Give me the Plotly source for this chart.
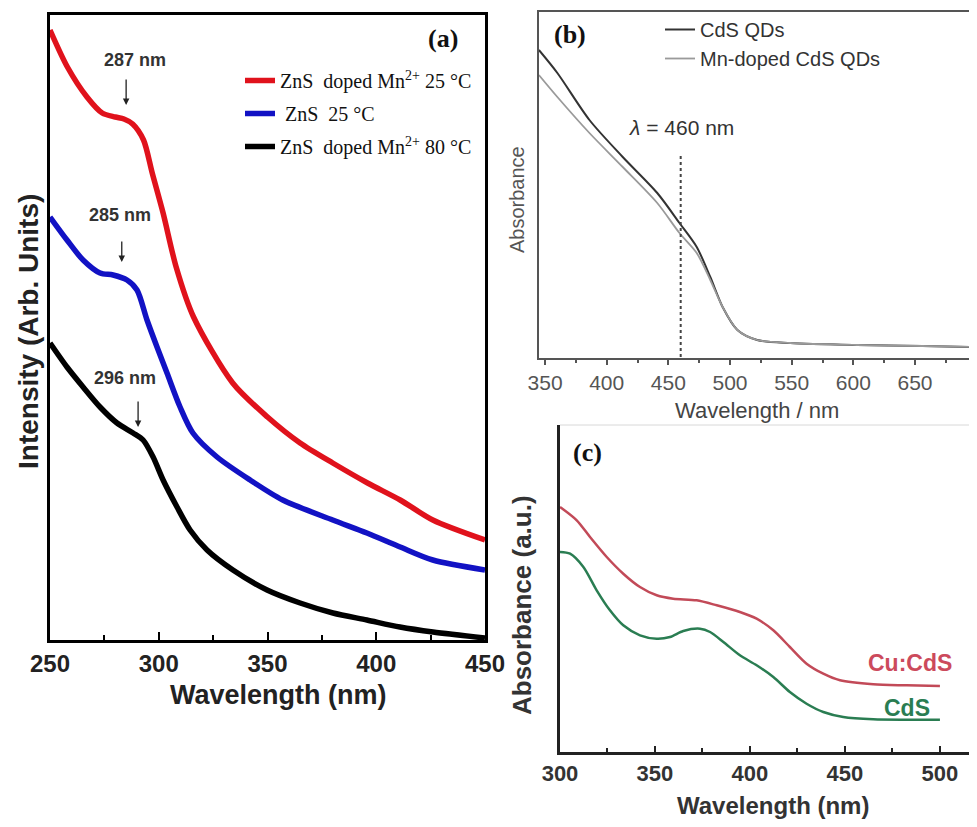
import plotly.graph_objects as go

# ---------------- Panel (a) data ----------------
a_red_x = [250, 258, 267, 274, 280, 284, 288, 293, 297, 302, 308, 316, 334, 350, 365, 380, 396, 411, 426, 450]
a_red_y = [610, 573, 543, 527, 523, 521, 516, 500, 467, 427, 373, 323, 257, 223, 197, 177, 157, 140, 120, 100]
a_blue_x = [250, 257.8, 265.2, 273, 279, 285.4, 290, 294.6, 299.2, 303.8, 309.8, 315.7, 326.8, 342, 357, 380, 395.7, 411, 426, 450]
a_blue_y = [423, 400, 380, 367, 365, 360, 350, 320, 293, 267, 233, 207, 183, 160, 140, 120, 107, 93, 80, 70]
a_black_x = [250, 257.8, 265.2, 273, 280.8, 288.2, 292.8, 297.4, 302, 308.4, 314.4, 322.2, 334.1, 349.8, 365, 380.1, 395.7, 410.9, 426.1, 450]
a_black_y = [297, 273, 253, 233, 217, 207, 200, 183, 160, 133, 110, 90, 70, 50, 37, 27, 20, 13, 8, 2]
a_names = ["ZnS  doped Mn<sup>2+</sup> 25 °C", " ZnS  25 °C", "ZnS  doped Mn<sup>2+</sup> 80 °C"]
a_peak_labels = ["287 nm", "285 nm", "296 nm"]
a_peak_x = [285, 283, 290.5]
a_peak_head_y = [535, 378, 213]
a_peak_tail_y = [562, 400, 240]
a_label_x = [289, 282.2, 284.5]
a_label_y = [580, 425, 262]

# ---------------- Panel (b) data ----------------
b_x = [345, 360, 386, 413, 441, 459, 473, 484, 494, 506, 522, 549, 603, 656, 698]
b_cds_y = [309, 286, 239, 202, 166, 136, 112, 82, 52, 29, 19, 16, 14, 13, 12]
b_mn_y = [284, 262, 226, 192, 156, 126, 106, 79, 52, 29, 19, 16, 14, 13, 12]
b_names = ["CdS QDs", "Mn-doped CdS QDs"]
b_lambda = 460
b_lambda_y = [2, 204]

# ---------------- Panel (c) data ----------------
c_cu_x = [300, 308.8, 315.8, 324.6, 333.3, 342.1, 350.9, 359.6, 371.9, 382.5, 394.7, 403.5, 412.3, 421, 429.8, 438.6, 447.4, 464.9, 482.5, 500]
c_cu_y = [245, 231.7, 215, 195, 178.3, 165, 156.7, 153.3, 151.7, 146.7, 140, 133.3, 121.7, 105, 88.3, 78.3, 71.7, 67.7, 66.7, 66]
c_cds_x = [300, 305.3, 312.3, 319.3, 326.3, 333.3, 342.1, 350.9, 357.9, 364.9, 373.7, 379, 386, 394.7, 403.5, 412.3, 421, 429.8, 438.6, 449.1, 464.9, 482.5, 500]
c_cds_y = [200, 198.3, 185, 161.7, 141.7, 126.7, 116.7, 113.3, 115, 121, 123.3, 120, 110, 96.7, 86.7, 75, 60, 48.3, 40, 35, 32.7, 32.3, 32.3]

# page body has an 8px margin; size the figure so the page fits the window exactly
OFF = 8
FW, FH = 977 - 2 * OFF, 827 - 2 * OFF
def px(v):
    return min(1.0, max(0.0, (v - OFF) / FW))
def py(v):
    return min(1.0, max(0.0, 1 - (v - OFF) / FH))

SANS = "Liberation Sans, Arial, sans-serif"
SERIF = "Liberation Serif, Times New Roman, serif"

fig = go.Figure()

# Panel a traces
for xs, ys, col, nm in [(a_red_x, a_red_y, "#e0121c", a_names[0]),
                        (a_blue_x, a_blue_y, "#1212c4", a_names[1]),
                        (a_black_x, a_black_y, "#000000", a_names[2])]:
    fig.add_trace(go.Scatter(x=xs, y=ys, mode="lines", name=nm,
                             line=dict(color=col, width=5.5, shape="spline", smoothing=0.8),
                             xaxis="x", yaxis="y", legend="legend", legendgroup=nm))

# Panel b traces
fig.add_trace(go.Scatter(x=b_x, y=b_cds_y, mode="lines", name=b_names[0],
                         line=dict(color="#333333", width=2, shape="spline", smoothing=0.8),
                         xaxis="x2", yaxis="y2", legend="legend2"))
fig.add_trace(go.Scatter(x=b_x, y=b_mn_y, mode="lines", name=b_names[1],
                         line=dict(color="#9a9a9a", width=1.8, shape="spline", smoothing=0.8),
                         xaxis="x2", yaxis="y2", legend="legend2"))
fig.add_trace(go.Scatter(x=[b_lambda, b_lambda], y=b_lambda_y, mode="lines", showlegend=False,
                         line=dict(color="#444444", width=2, dash="dot"),
                         xaxis="x2", yaxis="y2"))

# Panel c traces
fig.add_trace(go.Scatter(x=c_cu_x, y=c_cu_y, mode="lines", name="Cu:CdS", showlegend=False,
                         line=dict(color="#c24a58", width=2.5, shape="spline", smoothing=0.8),
                         xaxis="x3", yaxis="y3"))
fig.add_trace(go.Scatter(x=c_cds_x, y=c_cds_y, mode="lines", name="CdS", showlegend=False,
                         line=dict(color="#2a7d52", width=2.5, shape="spline", smoothing=0.8),
                         xaxis="x3", yaxis="y3"))

C = dict(xanchor="center", yanchor="middle", showarrow=False)
annotations = []
# Panel a labels and arrows
for lab, xa, hy, ty, lx, ly in zip(a_peak_labels, a_peak_x, a_peak_head_y, a_peak_tail_y, a_label_x, a_label_y):
    annotations.append(dict(x=xa, y=hy, ax=xa, ay=ty, xref="x", yref="y", axref="x", ayref="y",
                            text="", showarrow=True, arrowhead=2, arrowsize=1, arrowwidth=1.3,
                            arrowcolor="#222222"))
    annotations.append(dict(x=lx, y=ly, xref="x", yref="y", text="<b>%s</b>" % lab,
                            font=dict(family=SANS, size=18, color="#333333"), **C))

annotations += [
    dict(x=px(443), y=py(38), xref="paper", yref="paper", text="<b>(a)</b>",
         font=dict(family=SERIF, size=26, color="#111111"), **C),
    dict(x=px(570), y=py(35), xref="paper", yref="paper", text="<b>(b)</b>",
         font=dict(family=SERIF, size=26, color="#111111"), **C),
    dict(x=px(587), y=py(452), xref="paper", yref="paper", text="<b>(c)</b>",
         font=dict(family=SERIF, size=26, color="#111111"), **C),
    dict(x=px(278), y=py(695), xref="paper", yref="paper", text="<b>Wavelength (nm)</b>",
         font=dict(family=SANS, size=27, color="#222222"), **C),
    dict(x=px(28), y=py(332), xref="paper", yref="paper", text="<b>Intensity (Arb. Units)</b>",
         textangle=-90, font=dict(family=SANS, size=28, color="#222222"), **C),
    dict(x=px(757), y=py(410), xref="paper", yref="paper", text="Wavelength / nm",
         font=dict(family=SANS, size=22, color="#444444"), **C),
    dict(x=px(517), y=py(200), xref="paper", yref="paper", text="Absorbance",
         textangle=-90, font=dict(family=SANS, size=20, color="#555555"), **C),
    dict(x=461, y=231, xref="x2", yref="y2", text="<i>λ</i> = 460 nm",
         font=dict(family=SANS, size=21, color="#333333"), **C),
    dict(x=px(773), y=py(805), xref="paper", yref="paper", text="<b>Wavelength (nm)</b>",
         font=dict(family=SANS, size=24, color="#333333"), **C),
    dict(x=px(522), y=py(605), xref="paper", yref="paper", text="<b>Absorbance (a.u.)</b>",
         textangle=-90, font=dict(family=SANS, size=26, color="#333333"), **C),
    dict(x=484.2, y=89, xref="x3", yref="y3", text="<b>Cu:CdS</b>",
         font=dict(family=SANS, size=23, color="#cc4a5c"), **C),
    dict(x=482.6, y=44, xref="x3", yref="y3", text="<b>CdS</b>",
         font=dict(family=SANS, size=23, color="#2a7d52"), **C),
]

shapes = [
    dict(type="line", xref="x3 domain", yref="y3 domain", x0=0, x1=1, y0=1, y1=1,
         line=dict(color="#d8d8d8", width=1)),
]

fig.update_layout(
    width=FW, height=FH,
    margin=dict(l=0, r=0, t=0, b=0, autoexpand=False),
    paper_bgcolor="white", plot_bgcolor="white",
    annotations=annotations, shapes=shapes,
    xaxis=dict(domain=[px(50), px(485)], range=[250, 450], anchor="y",
               showline=True, linecolor="black", linewidth=3, mirror=True,
               ticks="inside", ticklen=8, tickwidth=2, tickcolor="black",
               tick0=250, dtick=50, showgrid=False, zeroline=False,
               minor=dict(ticks="inside", ticklen=5, tickwidth=2, tickcolor="black", dtick=25, showgrid=False),
               tickfont=dict(family=SANS, size=24, color="#222222"), tickprefix="<b>", ticksuffix="</b>"),
    yaxis=dict(domain=[py(640), py(15)], range=[0, 625], anchor="x",
               showline=True, linecolor="black", linewidth=3, mirror=True,
               ticks="", showticklabels=False, showgrid=False, zeroline=False),
    xaxis2=dict(domain=[px(539), px(974)], range=[345.1, 693.8], anchor="y2",
                showline=True, linecolor="#555555", linewidth=1.5, mirror=True,
                ticks="outside", ticklen=5, tickwidth=1.5, tickcolor="#555555",
                tick0=350, dtick=50, showgrid=False, zeroline=False,
                minor=dict(ticks="outside", ticklen=3, tickwidth=1.5, tickcolor="#555555", dtick=25, showgrid=False),
                tickfont=dict(family=SANS, size=21, color="#555555")),
    yaxis2=dict(domain=[py(358), py(12)], range=[1, 347], anchor="x2",
                showline=True, linecolor="#555555", linewidth=1.5, mirror=True,
                ticks="", showticklabels=False, showgrid=False, zeroline=False),
    xaxis3=dict(domain=[px(560), px(977)], range=[300, 515.3], anchor="y3",
                showline=True, linecolor="#222222", linewidth=2.5,
                ticks="inside", ticklen=6, tickwidth=2, tickcolor="#222222",
                tick0=300, dtick=50, showgrid=False, zeroline=False,
                minor=dict(ticks="inside", ticklen=4, tickwidth=2, tickcolor="#222222", dtick=25, showgrid=False),
                tickfont=dict(family=SANS, size=22, color="#333333"), tickprefix="<b>", ticksuffix="</b>"),
    yaxis3=dict(domain=[py(752), py(425)], range=[0, 327], anchor="x3",
                showline=True, linecolor="#222222", linewidth=2.5,
                ticks="", showticklabels=False, showgrid=False, zeroline=False),
    legend=dict(x=px(240), y=py(61), xanchor="left", yanchor="top", bgcolor="rgba(0,0,0,0)",
                font=dict(family=SERIF, size=20, color="#111111"), tracegroupgap=4),
    legend2=dict(x=px(660), y=py(10), xanchor="left", yanchor="top", bgcolor="rgba(0,0,0,0)",
                 font=dict(family=SANS, size=20, color="#333333"), tracegroupgap=0),
    showlegend=True,
)

fig.write_html("out.html")
